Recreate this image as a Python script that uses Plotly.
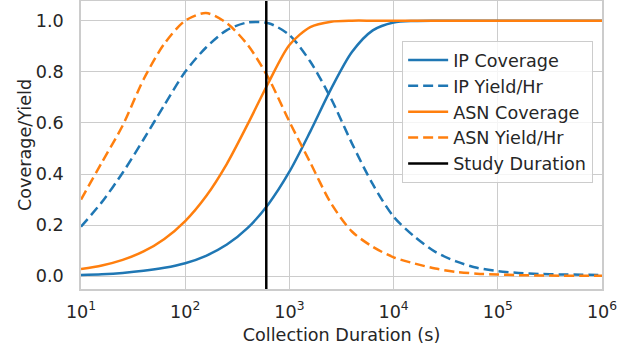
import plotly.graph_objects as go

# Collection duration grid (log10 seconds) -> seconds
log_duration = [1.0, 1.2, 1.4, 1.6, 1.8, 2.0, 2.2, 2.4, 2.6, 2.8, 3.0, 3.2, 3.4, 3.6, 3.8,
                4.0, 4.2, 4.4, 4.6, 4.8, 5.0, 5.2, 5.4, 5.6, 5.8, 6.0]
duration = [10 ** v for v in log_duration]

ip_coverage = [0.005, 0.008, 0.013, 0.021, 0.033, 0.051, 0.080, 0.124, 0.189, 0.283, 0.409,
               0.566, 0.733, 0.877, 0.962, 0.993, 0.999, 1.0, 1.0, 1.0, 1.0, 1.0, 1.0, 1.0, 1.0, 1.0]
ip_yield = [0.194, 0.29, 0.405, 0.535, 0.67, 0.80, 0.895, 0.963, 0.993, 0.99, 0.944,
            0.84, 0.695, 0.52, 0.36, 0.233, 0.155, 0.095, 0.058, 0.033, 0.02, 0.013, 0.009,
            0.007, 0.006, 0.005]
asn_coverage = [0.028, 0.042, 0.064, 0.097, 0.146, 0.216, 0.313, 0.44, 0.595, 0.758, 0.905,
                0.975, 0.996, 1.0, 1.0, 1.0, 1.0, 1.0, 1.0, 1.0, 1.0, 1.0, 1.0, 1.0, 1.0, 1.0]
asn_yield = [0.30, 0.445, 0.59, 0.77, 0.91, 1.0, 1.03, 0.99, 0.905, 0.775, 0.605, 0.445,
             0.285, 0.175, 0.115, 0.074, 0.05, 0.03, 0.017, 0.01, 0.007, 0.004, 0.003,
             0.002, 0.002, 0.002]
study_duration = 600

x_tickvals = [1e1, 1e2, 1e3, 1e4, 1e5, 1e6]
x_ticktext = ["10<sup>1</sup>", "10<sup>2</sup>", "10<sup>3</sup>", "10<sup>4</sup>",
              "10<sup>5</sup>", "10<sup>6</sup>"]
y_tickvals = [0.0, 0.2, 0.4, 0.6, 0.8, 1.0]

BLUE = "#1f77b4"
ORANGE = "#ff7f0e"
LW = 2.5
DASH = "10px,5px"

fig = go.Figure()
fig.add_trace(go.Scatter(x=duration, y=ip_coverage, mode="lines", name="IP Coverage",
                         line=dict(color=BLUE, width=LW, shape="spline", smoothing=0.8)))
fig.add_trace(go.Scatter(x=duration, y=ip_yield, mode="lines", name="IP Yield/Hr",
                         line=dict(color=BLUE, width=LW, dash=DASH, shape="spline", smoothing=0.8)))
fig.add_trace(go.Scatter(x=duration, y=asn_coverage, mode="lines", name="ASN Coverage",
                         line=dict(color=ORANGE, width=LW, shape="spline", smoothing=0.8)))
fig.add_trace(go.Scatter(x=duration, y=asn_yield, mode="lines", name="ASN Yield/Hr",
                         line=dict(color=ORANGE, width=LW, dash=DASH, shape="spline", smoothing=0.8)))
fig.add_vline(x=study_duration, line=dict(color="black", width=2.5),
              showlegend=True, name="Study Duration", layer="above")

FONT = "DejaVu Sans"
TXT = "#262626"
GRID = "#cccccc"
FS = 17.6

fig.update_layout(
    width=633, height=353,
    margin=dict(l=81, r=31, t=1, b=64, autoexpand=False),
    paper_bgcolor="white", plot_bgcolor="white",
    font=dict(family=FONT, size=FS, color=TXT),
    showlegend=True,
    legend=dict(x=0.616, y=0.862, xanchor="left", yanchor="top",
                bgcolor="rgba(255,255,255,0.8)", bordercolor=GRID, borderwidth=1.2,
                font=dict(family=FONT, size=FS, color=TXT),
                tracegroupgap=0, itemwidth=40),
)
fig.update_xaxes(type="log", range=[1, 6], tickvals=x_tickvals, ticktext=x_ticktext,
                 automargin=False,
                 showgrid=True, gridcolor=GRID, gridwidth=1.3, zeroline=False,
                 showline=True, mirror=True, linecolor=GRID, linewidth=1.5,
                 ticks="", ticklabelstandoff=6,
                 tickfont=dict(family=FONT, size=FS, color=TXT),
                 title=dict(text="Collection Duration (s)", font=dict(family=FONT, size=FS, color=TXT),
                            standoff=8))
fig.update_yaxes(range=[-0.05, 1.077], tickvals=y_tickvals, tickformat=".1f",
                 automargin=False,
                 showgrid=True, gridcolor=GRID, gridwidth=1.3, zeroline=False,
                 showline=True, mirror=True, linecolor=GRID, linewidth=1.5,
                 ticks="", ticklabelstandoff=12,
                 tickfont=dict(family=FONT, size=FS, color=TXT),
                 title=dict(text="Coverage/Yield", font=dict(family=FONT, size=FS, color=TXT),
                            standoff=0))

fig.write_html("out.html", config={"displayModeBar": False},
               post_script="document.body.style.margin='0px';document.body.style.overflow='hidden';")
